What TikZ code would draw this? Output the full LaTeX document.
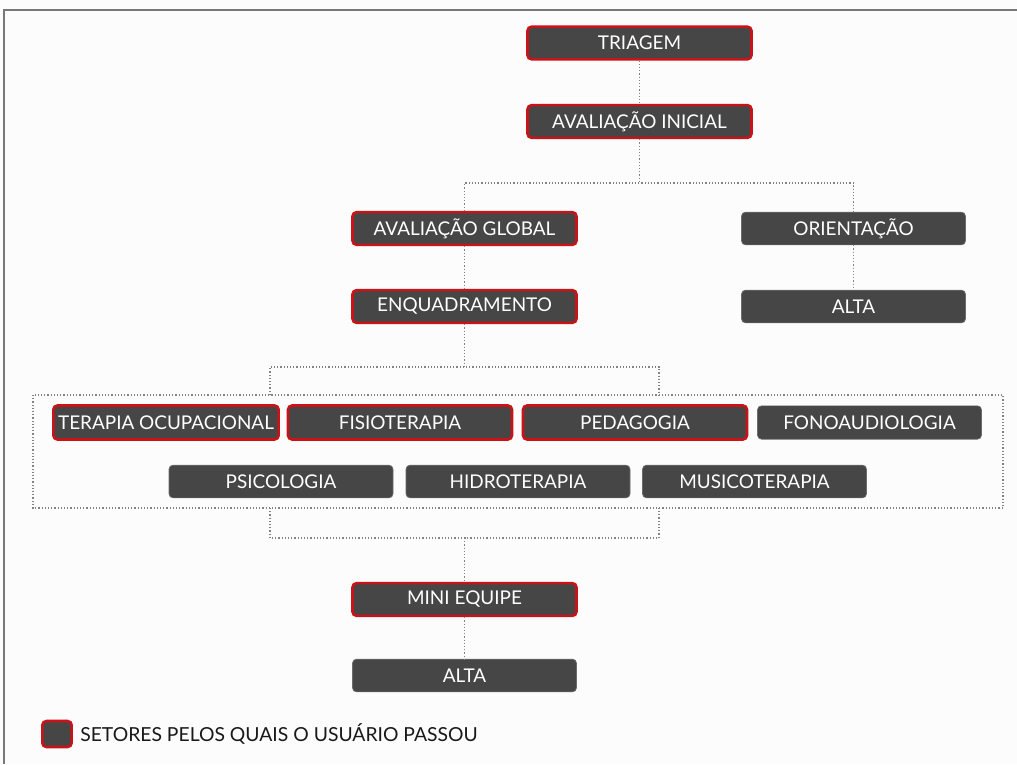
\documentclass[tikz,border=0pt]{standalone}
\usepackage{fontspec}
\setmainfont{Lato}
\definecolor{boxfill}{RGB}{70,70,70}
\definecolor{boxred}{RGB}{200,20,24}
\definecolor{frameg}{RGB}{120,120,120}
\definecolor{dotg}{RGB}{130,130,130}
\begin{document}
\begin{tikzpicture}[x=0.75pt,y=-0.75pt,
  sect/.style={fill=boxfill,draw=boxfill!80!white,line width=0.5pt,rounded corners=3pt,
    minimum width=168pt,minimum height=24.5pt,inner sep=0pt,text=white,
    font=\fontsize{14.2}{16}\selectfont},
  sectr/.style={sect,draw=boxred,line width=1.9pt},
  conn/.style={draw=dotg,line width=0.9pt,dash pattern=on 0.9pt off 1.5pt},
  grpbox/.style={draw=dotg,line width=0.9pt,dash pattern=on 0.9pt off 1.5pt}]
\useasboundingbox (0,0) rectangle (1017,764);
\fill[white!99!black] (0,0) rectangle (1017,764);
\draw[frameg,line width=1.1pt] (4,764) -- (4,10) -- (1017,10);
% group box
\draw[grpbox] (33,395) rectangle (1003,508);
% nodes
\node[sectr] (tri) at (639.5,43) {TRIAGEM};
\node[sectr] (ai) at (639.5,121.5) {AVALIAÇÃO INICIAL};
\node[sectr] (ag) at (464.5,228.5) {AVALIAÇÃO GLOBAL};
\node[sect] (ori) at (853.5,228.5) {ORIENTAÇÃO};
\node[sectr] (enq) at (464.5,306.5) {ENQUADRAMENTO};
\node[sect] (alta1) at (853.5,306.5) {ALTA};
\node[sectr,minimum width=169pt,minimum height=25.5pt] (to) at (166,422.5) {TERAPIA OCUPACIONAL};
\node[sectr,minimum height=25.5pt] (fis) at (400,422.5) {FISIOTERAPIA};
\node[sectr,minimum height=25.5pt] (ped) at (635,422.5) {PEDAGOGIA};
\node[sect,minimum height=25pt] (fon) at (869.5,422.5) {FONOAUDIOLOGIA};
\node[sect] (psi) at (281,481.5) {PSICOLOGIA};
\node[sect] (hid) at (518,481.5) {HIDROTERAPIA};
\node[sect] (mus) at (754.5,481.5) {MUSICOTERAPIA};
\node[sectr] (me) at (464.5,599.5) {MINI EQUIPE};
\node[sect] (alta2) at (464.5,675.5) {ALTA};
% legend
\node[sectr,minimum width=22pt,minimum height=19.5pt] (leg) at (57,734) {};
\node[anchor=west,inner sep=0pt,font=\fontsize{14.5}{16}\selectfont,text=black!90] (legt) at (80,734) {SETORES PELOS QUAIS O USUÁRIO PASSOU};
% coordinates
\coordinate (j1) at (639.5,183);
\coordinate (j2) at (464.5,367);
\coordinate (gt1) at (270,395);
\coordinate (gt2) at (659,395);
\coordinate (gb1) at (270,508);
\coordinate (gb2) at (659,508);
\coordinate (j3) at (464.5,538);
% connectors
\draw[conn] (tri) -- (ai);
\draw[conn] (ai) -- (j1);
\draw[conn] (ag.north) |- (j1) -| (ori.north);
\draw[conn] (ag) -- (enq);
\draw[conn] (ori) -- (alta1);
\draw[conn] (enq) -- (j2);
\draw[conn] (gt1) |- (j2) -| (gt2);
\draw[conn] (gb1) |- (j3) -| (gb2);
\draw[conn] (j3) -- (me);
\draw[conn] (me) -- (alta2);
\end{tikzpicture}
\end{document}
